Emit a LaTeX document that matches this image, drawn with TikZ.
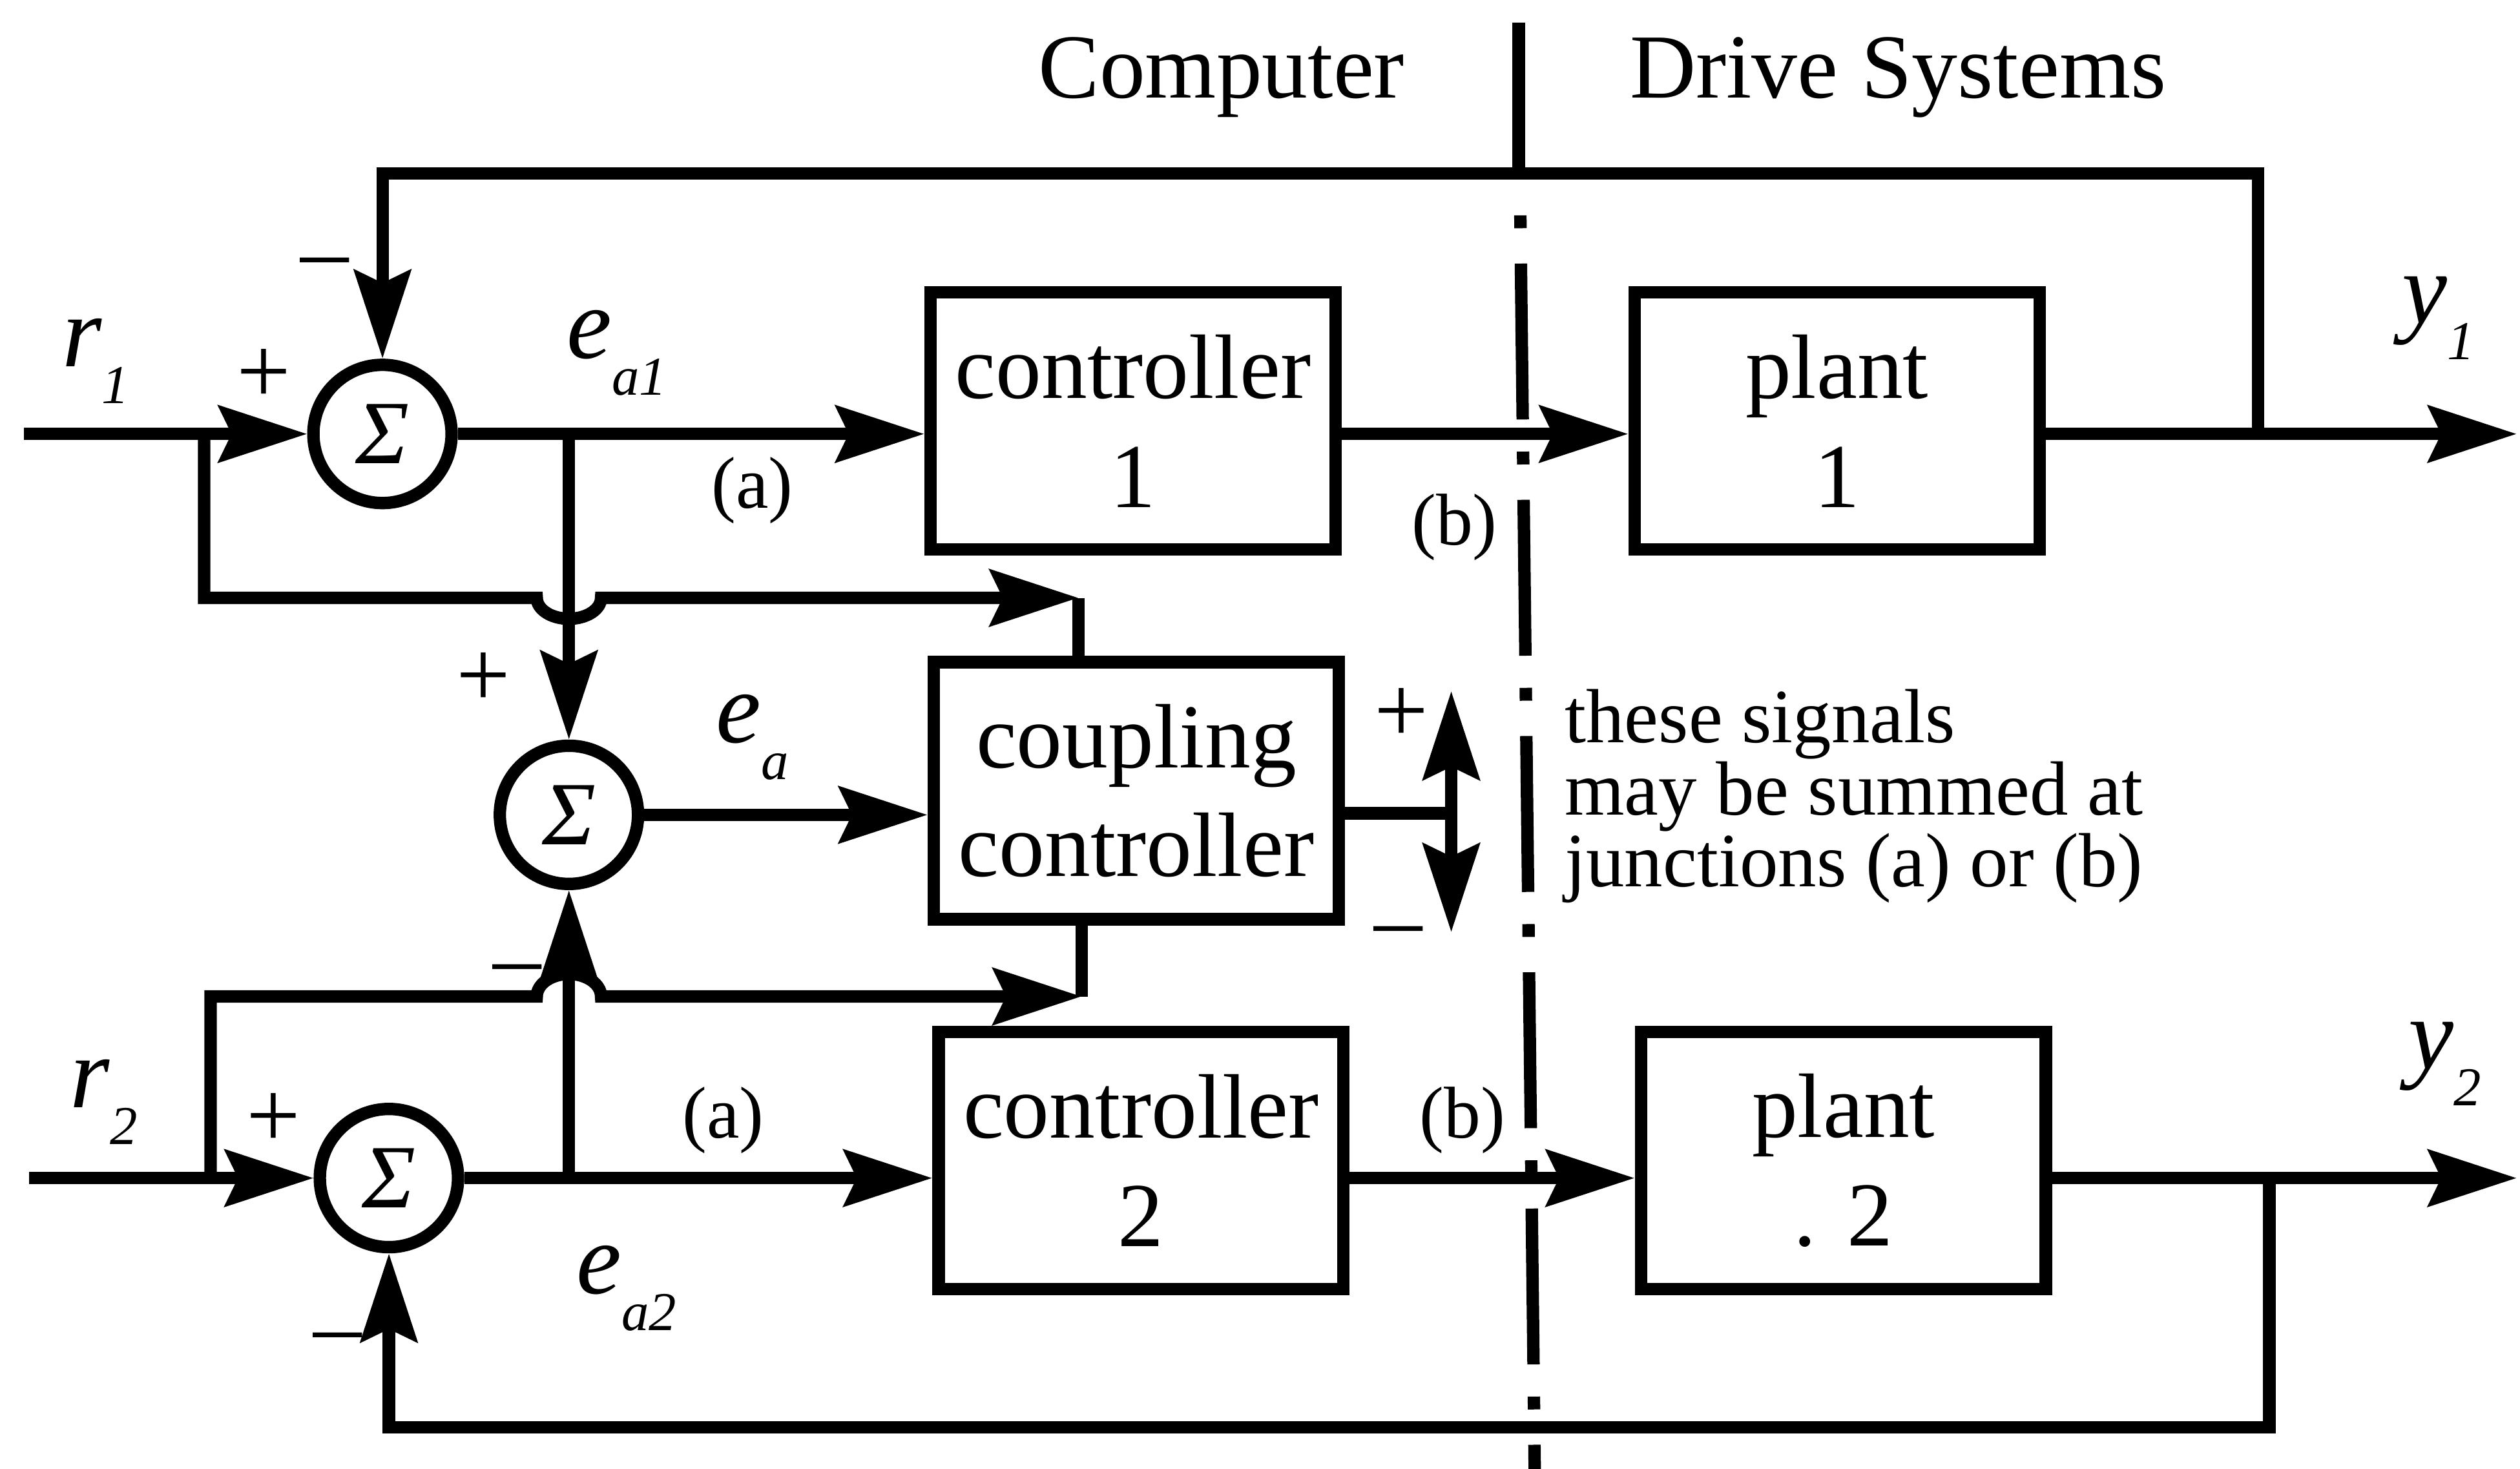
\documentclass[tikz,border=0pt]{standalone}
\usepackage{fontspec}
\setmainfont{Liberation Serif}
\usetikzlibrary{arrows.meta}

\newcommand{\sgn}[2]{\textit{#1}\raisebox{-6.5pt}{\fontsize{9.7}{10}\selectfont\itshape #2}}

\tikzset{
    ctlblock/.style={rectangle, draw, line width=2.2pt, minimum width=2.52cm, minimum height=1.6cm, align=center, inner sep=0pt, font=\fontsize{16.2}{19.3}\selectfont},
    sumnode/.style={circle, draw, line width=2.2pt, minimum size=0.86cm, inner sep=0pt, font=\fontsize{16}{16}\selectfont\itshape},
    sigline/.style={line width=2.2pt},
    sigarrow/.style={sigline, -{Stealth[length=5.5mm, width=3.5mm, inset=0.8mm]}},
    headtext/.style={font=\fontsize{16.2}{19}\selectfont, inner sep=0pt},
    varlabel/.style={font=\fontsize{18}{20}\selectfont, inner sep=0pt, anchor=base west},
    signmark/.style={font=\fontsize{17}{17}\selectfont, inner sep=0pt},
    junclabel/.style={font=\fontsize{13}{15}\selectfont, inner sep=0pt},
    notetext/.style={font=\fontsize{13.6}{12.8}\selectfont, align=left, inner sep=0pt, anchor=north west},
    divline/.style={line width=2.2pt}
}

\begin{document}
\begin{tikzpicture}[x=0.1mm, y=-0.1mm]
\useasboundingbox (0,0) rectangle (1568,914);

% sums and blocks
\node[sumnode] (sum1) at (238,270) {Σ};
\node[ctlblock] (ctl1) at (705,262) {controller\\1};
\node[ctlblock] (plant1) at (1143,262) {plant\\1};
\node[sumnode] (sumc) at (354,507) {Σ};
\node[ctlblock] (coup) at (707,492) {coupling\\controller};
\node[sumnode] (sum2) at (242,733) {Σ};
\node[ctlblock] (ctl2) at (710,722) {controller\\2};
\node[ctlblock] (plant2) at (1147,722) {plant\\. 2};

% free ends, taps and junctions
\coordinate (r1in) at (15,270);
\coordinate (r2in) at (18,733);
\coordinate (y1out) at (1566,270);
\coordinate (y2out) at (1566,733);
\coordinate (tap1) at (1405,270);
\coordinate (tap2) at (1412,733);
\coordinate (br1) at (127,270);
\coordinate (br2) at (131,733);
\coordinate (hop1) at (334,372);
\coordinate (hop2) at (334,620);
\coordinate (jc1) at (671,372);
\coordinate (jc2) at (673,620);
\coordinate (cpo) at (903,506);
\coordinate (cpup) at (903,430);
\coordinate (cpdn) at (903,580);

% loop 1
\draw[sigarrow] (r1in) -- (sum1);
\draw[sigarrow] (sum1) -- (sum1 -| ctl1.west);
\draw[sigarrow] (ctl1.east |- sum1) -- (plant1.west |- sum1);
\draw[sigarrow] (plant1.east |- sum1) -- (y1out);
\draw[sigarrow] (tap1) -- ++(0,-162) -| (sum1.north);

% coupling path
\draw[sigarrow] (sumc |- sum1) -- (sumc);
\draw[sigarrow] (sumc |- sum2) -- (sumc);
\draw[sigarrow] (sumc) -- (sumc -| coup.west);
\draw[sigline] (coup.east |- cpo) -- (cpo);
\draw[sigarrow] (cpo) -- (cpup);
\draw[sigarrow] (cpo) -- (cpdn);
\draw[sigarrow] (br1) |- (hop1) arc[start angle=180, end angle=0, x radius=20, y radius=13] -- (jc1);
\draw[sigline] (jc1) -- (jc1 |- coup.north);
\draw[sigarrow] (br2) |- (hop2) arc[start angle=180, end angle=360, x radius=20, y radius=14] -- (jc2);
\draw[sigline] (jc2) -- (jc2 |- coup.south);

% loop 2
\draw[sigarrow] (r2in) -- (sum2);
\draw[sigarrow] (sum2) -- (sum2 -| ctl2.west);
\draw[sigarrow] (ctl2.east |- sum2) -- (plant2.west |- sum2);
\draw[sigarrow] (plant2.east |- sum2) -- (y2out);
\draw[sigarrow] (tap2) -- ++(0,155) -| (sum2.south);

% computer / drive divider
\coordinate (divtop) at (945,14);
\coordinate (divend) at (945,108);
\coordinate (divdash) at (946,134);
\coordinate (divbot) at (955,920);
\draw[divline] (divtop) -- (divend);
\draw[divline, dash pattern=on 0.8mm off 2.2mm on 9.7mm off 2mm] (divdash) -- (divbot);

% texts
\node[headtext] (comp) at (760,48) {Computer};
\node[headtext] (drive) at (1181,48) {Drive Systems};
\node[varlabel] (r1lab) at (38,228) {\sgn{r}{1}};
\node[varlabel] (ea1lab) at (352,223) {\sgn{e}{a1}};
\node[varlabel] (ealab) at (445,462) {\sgn{e}{a}};
\node[varlabel] (ea2lab) at (358,805) {\sgn{e}{a2}};
\node[varlabel] (r2lab) at (43,689) {\sgn{r}{2}};
\node[varlabel] (y1lab) at (1494,201) {\sgn{y}{1}};
\node[varlabel] (y2lab) at (1498,665) {\sgn{y}{2}};

\node[signmark] (p1) at (164,234) {+};
\node[signmark] (m1) at (202,168) {–};
\node[signmark] (pc) at (301,423) {+};
\node[signmark] (mc) at (322,608) {–};
\node[signmark] (pd) at (872,445) {+};
\node[signmark] (md) at (870,584) {–};
\node[signmark] (p2) at (170,697) {+};
\node[signmark] (m2) at (210,837) {–};

\node[junclabel] (ja1) at (468,305) {(a)};
\node[junclabel] (jb1) at (905,328) {(b)};
\node[junclabel] (ja2) at (450,697) {(a)};
\node[junclabel] (jb2) at (910,697) {(b)};

\node[notetext] (note) at (973,428) {these signals\\may be summed at\\junctions (a) or (b)};

\end{tikzpicture}
\end{document}
